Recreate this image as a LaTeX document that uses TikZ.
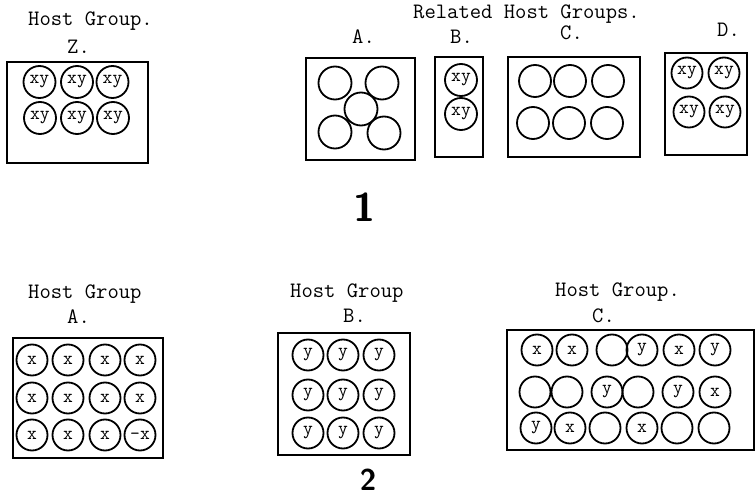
\documentclass[tikz,border=0pt]{standalone}
\usepackage{fontspec}
\begin{document}
\begin{tikzpicture}[x=1pt,y=-1pt,
  frame/.style={draw,line width=2pt},
  ring/.style={circle,draw,line width=1.8pt,minimum size=#1,inner sep=0pt,
    font=\ttfamily\fontsize{19}{20}\selectfont},
  ring/.default=32pt,
  title/.style={font=\ttfamily\fontsize{22}{24}\selectfont,inner sep=0pt,anchor=west},
  numeral/.style={font=\sffamily\bfseries\fontsize{#1}{#1}\selectfont,inner sep=0pt}]
\useasboundingbox (0,0) rectangle (756,500);

% ---------- Host Group Z ----------
\node[title] (zt) at (28,21) {Host Group.};
\node[title] (zl) at (67,47) {Z.};
\draw[frame] (7,62) rectangle (148,163);
\foreach \x/\y [count=\i] in {39.5/82,77/82,112.5/82,40/118,77/118,113/118}
  \node[ring] (z\i) at (\x,\y) {xy};

% ---------- Related host groups ----------
\node[title] (rt) at (413,14) {Related Host Groups.};
\node[title] (ra) at (352,37) {A.};
\node[title] (rb) at (450,37) {B.};
\node[title] (rc) at (560,33) {C.};
\node[title] (rd) at (717,30) {D.};

% group A
\draw[frame] (306,58) rectangle (415,160);
\foreach \x/\y [count=\i] in {335/83,382/83,361/109,335/132,384/133}
  \node[ring=33pt] (ra\i) at (\x,\y) {};
% group B
\draw[frame] (435,57) rectangle (483,157);
\foreach \y [count=\i] in {80,114}
  \node[ring] (rb\i) at (461,\y) {xy};
% group C
\draw[frame] (508,57) rectangle (640,157);
\foreach \x/\y [count=\i] in {535/81,570/81,608/81,533/123,569/123,607/123}
  \node[ring] (rc\i) at (\x,\y) {};
% group D
\draw[frame] (665,53) rectangle (747,155);
\foreach \x/\y [count=\i] in {687/73,724/73,689/112,725/112}
  \node[ring=31pt] (rd\i) at (\x,\y) {xy};

\node[numeral=40] (n1) at (364,207) {1};

% ---------- Host Group A ----------
\node[title] (at) at (28,294) {Host Group};
\node[title] (al) at (67,317) {A.};
\draw[frame] (13,338) rectangle (163,458);
\foreach \y [count=\r] in {360,398,435}
  \foreach \x [count=\c] in {32,68,105,140}
    \node[ring=31pt] (a\r\c) at (\x,\y) {\ifnum\r\c=34 -x\else x\fi};

% ---------- Host Group B ----------
\node[title] (bt) at (290,293) {Host Group};
\node[title] (bl) at (343,316) {B.};
\draw[frame] (278,333) rectangle (410,455);
\foreach \y [count=\r] in {355,395,433}
  \foreach \x [count=\c] in {308,343,379}
    \node[ring=31pt] (b\r\c) at (\x,\y) {y};

% ---------- Host Group C ----------
\node[title] (ct) at (555,292) {Host Group.};
\node[title] (cl) at (592,316) {C.};
\draw[frame] (507,330) rectangle (754,450);
\foreach \x/\y/\t [count=\i] in {
  537/350/x, 572/350/x, 612/350/{}, 642/350/y, 679/350/x, 715/350/y,
  535/392/{}, 567/392/{}, 607/392/y, 638/392/{}, 678/392/y, 715/392/x,
  536/428/y, 570/428/x, 605/428/{}, 642/428/x, 677/428/{}, 714/428/{}}
  \node[ring=31pt] (c\i) at (\x,\y) {\t};

\node[numeral=30] (n2) at (368,480) {2};
\end{tikzpicture}
\end{document}
